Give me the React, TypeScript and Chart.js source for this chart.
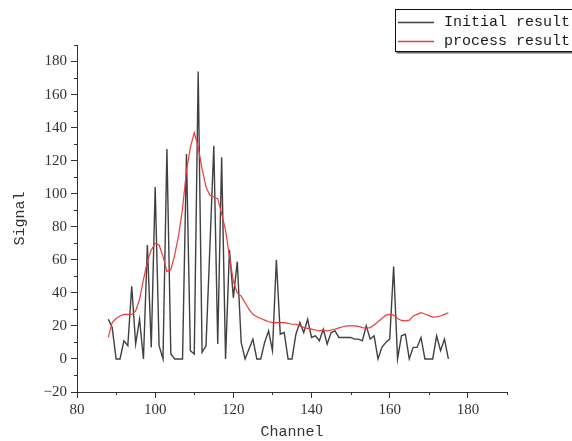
import React, { useEffect, useRef } from 'react';
import { Chart, registerables } from 'chart.js';

Chart.register(...registerables);

const channels = [
  88, 89, 90, 91, 92, 93, 94, 95, 96, 97, 98, 99, 100, 101, 102, 103, 104, 105, 106, 107,
  108, 109, 110, 111, 112, 113, 114, 115, 116, 117, 118, 119, 120, 121, 122, 123, 124, 125, 126, 127,
  128, 129, 130, 131, 132, 133, 134, 135, 136, 137, 138, 139, 140, 141, 142, 143, 144, 145, 146, 147,
  148, 149, 150, 151, 152, 153, 154, 155, 156, 157, 158, 159, 160, 161, 162, 163, 164, 165, 166, 167,
  168, 169, 170, 171, 172, 173, 174, 175,
];

const initialResult = [
  24, 19, 0, 0, 11, 8, 44, 9, 24, 0, 69, 7, 104, 8, 0, 127, 3, 0, 0, 0,
  124, 5, 3, 174, 4, 8, 68, 129, 9, 122, 0, 66, 37, 59, 10, 0, 6, 12, 0, 0,
  10, 17, 5, 60, 15, 16, 0, 0, 15, 22, 16, 24, 13, 14, 11, 18, 9, 16, 17, 13,
  13, 13, 13, 12, 12, 11, 20, 12, 14, 0, 7, 10, 12, 56, 0, 14, 15, 0, 7, 7,
  13, 0, 0, 0, 14, 5, 12, 0,
];

const processResult = [
  13, 22, 24.5, 26, 27, 27, 27, 29, 36, 48, 59, 66, 70, 69, 62, 53, 54, 63, 75, 91,
  114, 128, 137, 128, 115, 104, 99, 98, 97, 88, 78, 62, 47, 40, 38, 34, 30, 27, 25.5, 24.5,
  23.5, 22.5, 22, 22, 22, 22, 21.5, 21, 21, 20, 19, 18.5, 18, 17.5, 17, 17.5, 17, 17.5, 18, 18.8,
  19.5, 20, 20, 20, 19.7, 19, 18.6, 19, 20.5, 22.5, 24.5, 26.5, 27, 26.5, 24.5, 23.3, 23, 23.5, 26, 27,
  28, 27.2, 26.2, 25.3, 25.5, 26, 27, 28,
];

const seriesNames = ['Initial result', 'process result'];
const seriesColors = ['#404040', '#f03a3a'];

const xMinorTicks = [90, 110, 130, 150, 170, 190];
const yMinorTicks = [-10, 10, 30, 50, 70, 90, 110, 130, 150, 170, 190];

const fmt = (v: number) => (v < 0 ? '\u2212' + Math.abs(v) : String(v));

const decorPlugin = {
  id: 'decor',
  afterDraw(chart: any) {
    const ctx = chart.ctx;
    const xs = chart.scales.x;
    const ys = chart.scales.y;
    ctx.save();
    ctx.strokeStyle = '#333';
    ctx.lineWidth = 1;
    for (const v of xMinorTicks) {
      const px = Math.round(xs.getPixelForValue(v)) + 0.5;
      ctx.beginPath();
      ctx.moveTo(px, ys.bottom);
      ctx.lineTo(px, ys.bottom + 3);
      ctx.stroke();
    }
    for (const v of yMinorTicks) {
      const py = Math.round(ys.getPixelForValue(v)) + 0.5;
      ctx.beginPath();
      ctx.moveTo(xs.left, py);
      ctx.lineTo(xs.left - 3, py);
      ctx.stroke();
    }

    // legend box
    const bx = 395.5;
    const by = 9.5;
    const bw = 200;
    const bh = 42;
    ctx.fillStyle = '#ffffff';
    ctx.fillRect(bx, by, bw, bh);
    ctx.fillStyle = '#666';
    ctx.fillRect(bx + 1, by + bh, bw, 2);
    ctx.strokeStyle = '#111';
    ctx.lineWidth = 1;
    ctx.strokeRect(bx, by, bw, bh);

    const rows = [22.5, 41.5];
    ctx.font = '15px "Liberation Mono", monospace';
    ctx.textBaseline = 'middle';
    ctx.textAlign = 'left';
    rows.forEach((ry, i) => {
      ctx.strokeStyle = seriesColors[i];
      ctx.lineWidth = 1.3;
      ctx.beginPath();
      ctx.moveTo(398, ry);
      ctx.lineTo(434, ry);
      ctx.stroke();
      ctx.fillStyle = '#1a1a1a';
      ctx.fillText(seriesNames[i], 444, ry);
    });
    ctx.restore();
  },
};

export default function App() {
  const canvasRef = useRef<HTMLCanvasElement | null>(null);

  useEffect(() => {
    const canvas = canvasRef.current;
    if (!canvas) return;
    const chart = new Chart(canvas, {
      type: 'line',
      data: {
        datasets: [
          {
            label: seriesNames[0],
            data: channels.map((c, i) => ({ x: c, y: initialResult[i] })),
            borderColor: seriesColors[0],
            borderWidth: 1.4,
            pointRadius: 0,
            tension: 0,
            fill: false,
            order: 1,
          },
          {
            label: seriesNames[1],
            data: channels.map((c, i) => ({ x: c, y: processResult[i] })),
            borderColor: seriesColors[1],
            borderWidth: 1.2,
            pointRadius: 0,
            tension: 0,
            fill: false,
            order: 0,
          },
        ],
      },
      options: {
        responsive: false,
        animation: false,
        layout: { padding: { top: 45, right: 65, left: 0, bottom: 0 } },
        plugins: {
          legend: { display: false },
          tooltip: { enabled: false },
        },
        scales: {
          x: {
            type: 'linear',
            min: 80,
            max: 190,
            afterFit: (s: any) => {
              s.height = 49;
            },
            border: { display: true, color: '#333', width: 1 },
            grid: { display: true, drawOnChartArea: false, drawTicks: true, tickLength: 6, tickColor: '#333' },
            ticks: {
              stepSize: 20,
              includeBounds: false,
              autoSkip: false,
              maxRotation: 0,
              padding: 3,
              color: '#333',
              font: { family: '"Liberation Serif", serif', size: 15 },
              callback: (v: any) => fmt(Number(v)),
            },
            title: {
              display: true,
              text: 'Channel',
              color: '#333',
              padding: { top: 0, bottom: 0 },
              font: { family: '"Liberation Mono", monospace', size: 15 },
            },
          },
          y: {
            type: 'linear',
            min: -20,
            max: 190,
            afterFit: (s: any) => {
              s.width = 77;
            },
            border: { display: true, color: '#333', width: 1 },
            grid: { display: true, drawOnChartArea: false, drawTicks: true, tickLength: 6, tickColor: '#333' },
            ticks: {
              stepSize: 20,
              includeBounds: false,
              autoSkip: false,
              padding: 4,
              color: '#333',
              font: { family: '"Liberation Serif", serif', size: 15 },
              callback: (v: any) => fmt(Number(v)),
            },
            title: {
              display: true,
              text: 'Signal',
              color: '#333',
              padding: { top: 11, bottom: 0 },
              font: { family: '"Liberation Mono", monospace', size: 15 },
            },
          },
        },
      },
      plugins: [decorPlugin],
    });
    return () => chart.destroy();
  }, []);

  return (
    <div style={{ position: 'fixed', left: 0, top: 0, width: 572, height: 441, background: '#fff' }}>
      <canvas ref={canvasRef} width={572} height={441} style={{ display: 'block' }} />
    </div>
  );
}
